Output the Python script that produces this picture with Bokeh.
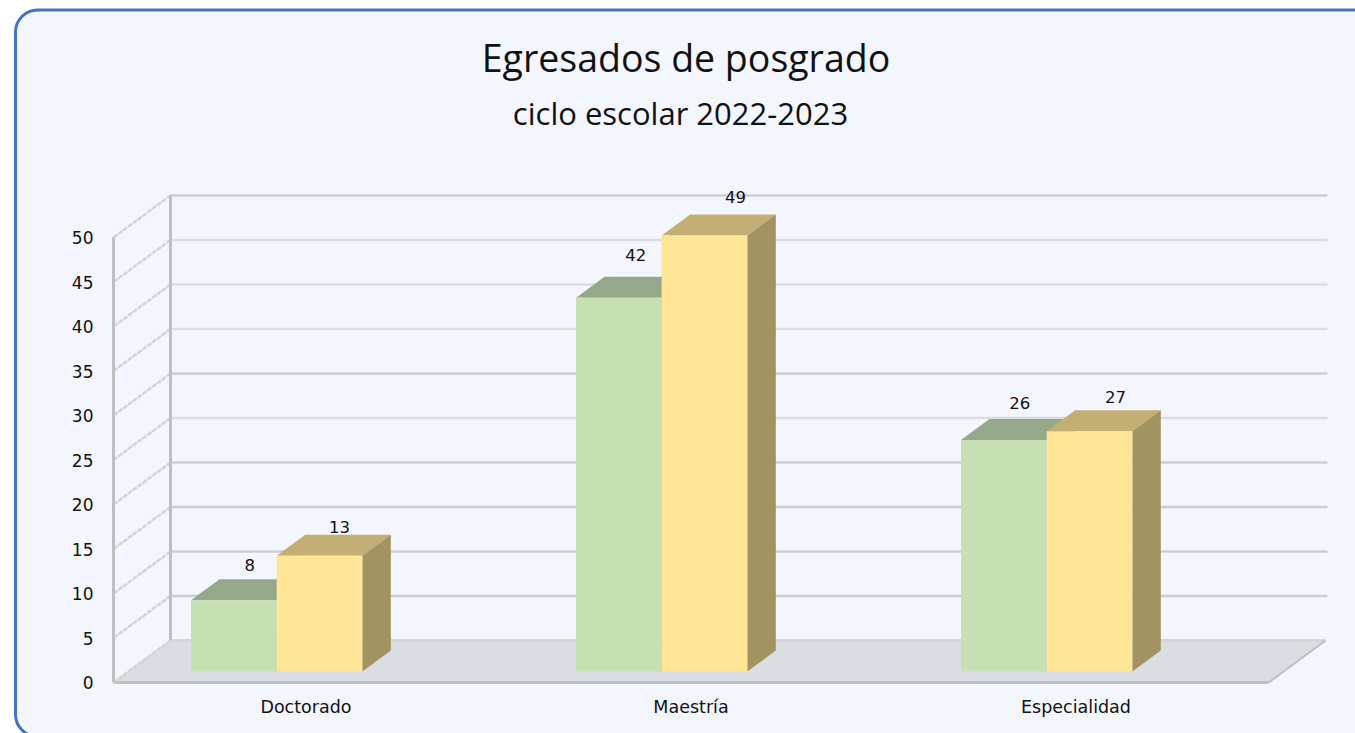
from bokeh.plotting import figure
from bokeh.models import BoxAnnotation, FixedTicker, Label, ColumnDataSource
from bokeh.core.properties import value
from bokeh.embed import file_html
from bokeh.resources import INLINE

# ---- data ----
categories = ["Doctorado", "Maestría", "Especialidad"]
series_green = [8, 42, 26]
series_yellow = [13, 49, 27]
y_ticks = [0, 5, 10, 15, 20, 25, 30, 35, 40, 45, 50]
title_text = "Egresados de posgrado"
subtitle_text = "ciclo escolar 2022-2023"

# ---- styling / geometry ----
W, H = 1355, 733
PX_X, PX_Y = 385.0, 8.9          # pixels per category, pixels per y unit
ORG_X, ORG_Y = 113.0, 682.0      # page position of the front origin
DX, DY = 57 / PX_X, 42 / PX_Y    # depth of the 3D box in data units
D_FRONT, D_BACK = 0.262, 0.762   # depth range of the bars
BAR_START, BAR_W = 0.1625, 0.2225
GRID_DARK = "#CDCED1"
GRID_LIGHT = "#DCDDE0"
AXIS = "#BEBFC1"
GREEN = ("#C6E0B4", "#95A98A", "#84956F")
YELLOW = ("#FFE596", "#C3AE73", "#A39360")
FONT = "DejaVu Sans"
TITLE_FONT = "Open Sans"
# gridline tone per tick (tick 5 upward)
grid_tones = [GRID_DARK, GRID_DARK, GRID_DARK, GRID_DARK, GRID_LIGHT,
              GRID_DARK, GRID_LIGHT, GRID_LIGHT, GRID_LIGHT, GRID_DARK]
# label nudges in pixels (dx, dy above bar front top)
nudge_green = [(16, 35), (17, 43), (16, 37)]
nudge_yellow = [(20, 29), (31, 38), (26, 34)]


def proj(x, v, d):
    return x + d * DX, v + d * DY


p = figure(width=W, height=H, output_backend="svg", toolbar_location=None,
           x_range=(-ORG_X / PX_X, (W - ORG_X) / PX_X),
           y_range=((ORG_Y - H) / PX_Y, ORG_Y / PX_Y),
           min_border=0, min_border_left=0, min_border_right=0,
           min_border_top=0, min_border_bottom=0,
           background_fill_color="#FFFFFF", border_fill_color="#FFFFFF",
           outline_line_color=None)
p.styles = {"position": "absolute", "left": "0px", "top": "0px"}
p.grid.visible = False

# panel
p.add_layout(BoxAnnotation(left=15, right=1378, top=H - 9.5, bottom=H - 736,
                           left_units="screen", right_units="screen",
                           top_units="screen", bottom_units="screen",
                           border_radius=22, fill_color="#F3F6FC", fill_alpha=1,
                           line_color="#4472C4", line_alpha=1, line_width=3,
                           level="underlay"))

# floor
n = len(categories)
fx = [proj(0, 0, 0)[0], proj(n, 0, 0)[0], proj(n, 0, 1)[0], proj(0, 0, 1)[0]]
fy = [proj(0, 0, 0)[1], proj(n, 0, 0)[1], proj(n, 0, 1)[1], proj(0, 0, 1)[1]]
p.patch(fx, fy, fill_color="#DADDE2", line_color=None)
p.line([fx[3], fx[2]], [fy[3], fy[2]], line_color="#D3D5D9", line_width=3)
p.line([fx[1], fx[2]], [fy[1], fy[2]], line_color=AXIS, line_width=2)
p.line([fx[0], fx[1]], [fy[0], fy[1]], line_color=AXIS, line_width=3)

# back wall and side wall grid
for k, t in enumerate(y_ticks):
    if t > 0:
        a = proj(0, t, 1)
        b = proj(n, t, 1)
        p.line([a[0], b[0] + 2 / PX_X], [a[1], b[1]], line_color=grid_tones[k - 1],
               line_width=2.5)
    c = proj(0, t, 0)
    d = proj(0, t, 1)
    p.line([c[0], d[0]], [c[1], d[1]], line_color="#D2D3D5", line_width=2.5,
           line_dash="5 1")
a, b = proj(0, 0, 1), proj(0, y_ticks[-1], 1)
p.line([a[0], b[0]], [a[1], b[1]], line_color=AXIS, line_width=3)


def bar(i, val, offset, colors):
    x0 = i + BAR_START + offset
    x1 = x0 + BAR_W
    fl, fb = proj(x0, 0, D_FRONT)
    fr, _ = proj(x1, 0, D_FRONT)
    ft = fb + val
    blx, bly = proj(x0, val, D_BACK)
    brx, _ = proj(x1, val, D_BACK)
    _, bb = proj(x1, 0, D_BACK)
    p.patch([fl, fr, brx, blx], [ft, ft, bly, bly], fill_color=colors[1], line_color=None)
    p.patch([fr, brx, brx, fr], [fb, bb, bly, ft], fill_color=colors[2], line_color=None)
    p.quad(left=[fl], right=[fr], bottom=[fb], top=[ft], fill_color=colors[0],
           line_color=None)
    return (fl + fr) / 2, ft


xs, ys, texts, xo, yo = [], [], [], [], []
for i in range(n):
    cx, top = bar(i, series_green[i], 0, GREEN)
    xs.append(cx); ys.append(top); texts.append(str(series_green[i]))
    xo.append(nudge_green[i][0]); yo.append(-nudge_green[i][1])
    cx, top = bar(i, series_yellow[i], BAR_W, YELLOW)
    xs.append(cx); ys.append(top); texts.append(str(series_yellow[i]))
    xo.append(nudge_yellow[i][0]); yo.append(-nudge_yellow[i][1])

src = ColumnDataSource(dict(x=xs, y=ys, t=texts, xo=xo, yo=yo))
p.text("x", "y", text="t", x_offset="xo", y_offset="yo", source=src,
       text_align="center", text_baseline="middle", text_color="#111111",
       text_font=value(FONT), text_font_size="16.5px")

# axes
ax = p.yaxis[0]
ax.fixed_location = 0
ax.ticker = FixedTicker(ticks=y_ticks)
ax.bounds = (0, y_ticks[-1])
ax.axis_line_color = AXIS
ax.axis_line_width = 3
ax.major_tick_line_color = None
ax.minor_tick_line_color = None
ax.major_label_standoff = 14
ax.major_label_text_font = FONT
ax.major_label_text_font_size = "17px"
ax.major_label_text_color = "#111111"

bx = p.xaxis[0]
bx.fixed_location = 0
bx.ticker = FixedTicker(ticks=[i + 0.5 for i in range(n)])
bx.major_label_overrides = {i + 0.5: c for i, c in enumerate(categories)}
bx.axis_line_color = None
bx.major_tick_line_color = None
bx.minor_tick_line_color = None
bx.major_label_standoff = 8
bx.major_label_text_font = FONT
bx.major_label_text_font_size = "17.5px"
bx.major_label_text_color = "#111111"

# titles
p.add_layout(Label(x=685.5, y=H - 57, x_units="screen", y_units="screen", text=title_text,
                   text_align="center", text_baseline="middle", text_font=TITLE_FONT,
                   text_font_size="37.5px", text_color="#111111"))
p.add_layout(Label(x=680, y=H - 112, x_units="screen", y_units="screen", text=subtitle_text,
                   text_align="center", text_baseline="middle", text_font=TITLE_FONT,
                   text_font_size="31px", text_color="#111111"))

open("out.html", "w").write(file_html(p, INLINE))
